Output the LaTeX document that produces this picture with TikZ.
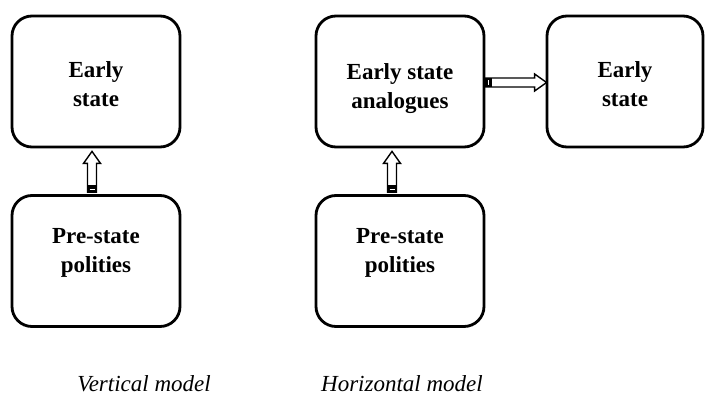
\documentclass[tikz,border=0pt]{standalone}
\usepackage{fontspec}
\setmainfont{Liberation Serif}
\usetikzlibrary{positioning,calc}
% hollow block arrow from node anchor #1 to node anchor #2
\newcommand*{\fatarrow}[2]{%
  \coordinate (tl) at (#1);
  \coordinate (tp) at (#2);
  \coordinate (hd) at ($(tp)!12pt!(tl)$);
  \coordinate (bk) at ($(tl)!7pt!(tp)$);
  \draw[fatline] ($(tl)!4.5pt!90:(tp)$) -- ($(hd)!4.5pt!90:(tp)$)
    -- ($(hd)!8.5pt!90:(tp)$) -- (tp) -- ($(hd)!8.5pt!-90:(tp)$)
    -- ($(hd)!4.5pt!-90:(tp)$) -- ($(tl)!4.5pt!-90:(tp)$) -- cycle;
  \fill ($(tl)!4.5pt!90:(tp)$) -- ($(bk)!4.5pt!90:(tp)$)
    -- ($(bk)!4.5pt!-90:(tp)$) -- ($(tl)!4.5pt!-90:(tp)$) -- cycle;
  \draw[white,line width=0.8pt] ($($(tl)!3pt!(tp)$)!2.5pt!90:(tp)$)
    -- ($($(tl)!3pt!(tp)$)!2.5pt!-90:(tp)$);}

\begin{document}
\begin{tikzpicture}[x=1pt,y=-1pt,
  polity/.style={draw,line width=2.8pt,rounded corners=20pt,
    minimum width=168pt,minimum height=131pt,inner sep=0pt},
  boxtext/.style={align=center,anchor=base,inner sep=0pt,
    font=\fontsize{23}{29}\selectfont\bfseries},
  model/.style={anchor=base,inner sep=0pt,
    font=\fontsize{23}{28}\selectfont\itshape},
  fatline/.style={draw,fill=white,line width=1.4pt,line join=miter}]
\useasboundingbox (0,0) rectangle (705,399);
% Vertical model
\node[polity] (early1) at (96,81.5) {};
\node[polity] (pre1) at (96,261) {};
\node[boxtext] (early1t) at (96,106) {Early\\state};
\node[boxtext] (pre1t) at (96,272) {Pre-state\\polities};
% Horizontal model
\node[polity] (analog) at (400,81.5) {};
\node[polity] (pre2) at (400,261) {};
\node[polity,minimum width=156pt] (early2) at (625,81.5) {};
\node[boxtext] (analogt) at (400,108) {Early state\\analogues};
\node[boxtext] (pre2t) at (400,272) {Pre-state\\polities};
\node[boxtext] (early2t) at (625,106) {Early\\state};
% Arrows
\fatarrow{$(pre1.north)+(-4,-2)$}{$(early1.south)+(-4,3)$}
\fatarrow{$(pre2.north)+(-8,-2)$}{$(analog.south)+(-8,3)$}
\fatarrow{$(analog.east)+(0,1)$}{$(early2.west)+(1,1)$}
% Captions
\node[model] (vert) at (144,391) {Vertical model};
\node[model] (horiz) at (402,391) {Horizontal model};
\end{tikzpicture}
\end{document}
